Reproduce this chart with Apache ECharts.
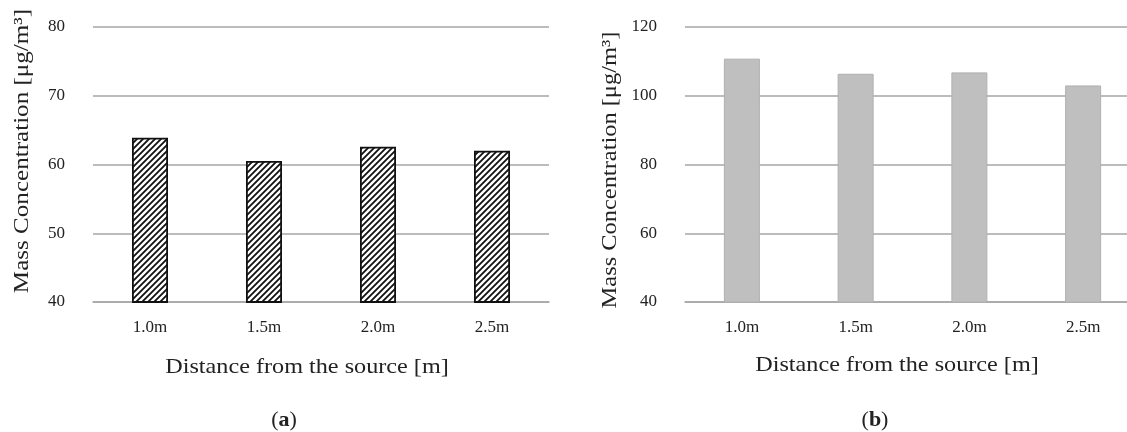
<!DOCTYPE html>
<html>
<head>
<meta charset="utf-8">
<script src="https://cdn.jsdelivr.net/npm/echarts@6/dist/echarts.min.js"></script>
<style>
html,body{margin:0;padding:0;background:#fff;}
#chart{width:1127px;height:432px;}
</style>
</head>
<body>
<div id="chart"></div>
<script>
const categories = ['1.0m', '1.5m', '2.0m', '2.5m'];
const valuesA = [63.9, 60.5, 62.6, 62.0];
const valuesB = [110.8, 106.4, 106.8, 103.0];
const yTitle = 'Mass Concentration [μg/m³]';
const xTitle = 'Distance from the source [m]';
const panelA = 'a';
const panelB = 'b';

const FONT = "'Liberation Serif', 'DejaVu Serif', serif";
const TXT = '#222';
const GRIDC = '#a6a6a6';

function hatch() {
  const s = 6;
  const c = document.createElement('canvas');
  c.width = s; c.height = s;
  const g = c.getContext('2d');
  g.fillStyle = '#fff';
  g.fillRect(0, 0, s, s);
  g.strokeStyle = '#111';
  g.lineWidth = 1.8;
  g.beginPath();
  g.moveTo(-s, s); g.lineTo(s, -s);
  g.moveTo(0, s); g.lineTo(s, 0);
  g.moveTo(0, 2 * s); g.lineTo(2 * s, 0);
  g.stroke();
  return c;
}

const chart = echarts.init(document.getElementById('chart'), null, {renderer: 'canvas'});

function xAxis(gi) {
  return {
    type: 'category', gridIndex: gi, data: categories,
    axisLine: {show: true, lineStyle: {color: GRIDC, width: 1.5}},
    axisTick: {show: false},
    axisLabel: {margin: 17, fontFamily: FONT, fontSize: 17, color: TXT}
  };
}
function yAxis(gi, min, max, interval) {
  return {
    type: 'value', gridIndex: gi, min: min, max: max, interval: interval,
    axisLine: {show: false}, axisTick: {show: false},
    splitLine: {show: true, lineStyle: {color: GRIDC, width: 1.5}},
    axisLabel: {margin: 28, fontFamily: FONT, fontSize: 17, color: TXT}
  };
}

function vTitle(x, y, sx) {
  return {type: 'text', x: x, y: y, rotation: Math.PI / 2, scaleX: sx,
    style: {text: yTitle, font: '22px ' + FONT, fill: TXT, textAlign: 'center', textVerticalAlign: 'middle'}};
}
function hTitle(x, y) {
  return {type: 'text', x: x, y: y, scaleX: 1.1,
    style: {text: xTitle, font: '22px ' + FONT, fill: TXT, textAlign: 'center', textVerticalAlign: 'middle'}};
}
function panel(x, y, letter) {
  return {type: 'text', x: x, y: y,
    style: {text: '{p|(}{b|' + letter + '}{p|)}', textAlign: 'center', textVerticalAlign: 'middle',
      rich: {
        p: {fontFamily: FONT, fontSize: 22, fill: TXT, color: TXT},
        b: {fontFamily: FONT, fontSize: 22, fontWeight: 'bold', fill: TXT, color: TXT}
      }}};
}

chart.setOption({
  animation: false,
  backgroundColor: '#fff',
  grid: [
    {left: 93, top: 27, width: 456, height: 275, outerBoundsMode: 'none', containLabel: false},
    {left: 685, top: 27, width: 455, height: 275, outerBoundsMode: 'none', containLabel: false}
  ],
  xAxis: [xAxis(0), xAxis(1)],
  yAxis: [yAxis(0, 40, 80, 10), yAxis(1, 40, 120, 20)],
  series: [
    {
      type: 'bar', xAxisIndex: 0, yAxisIndex: 0, data: valuesA, barWidth: 36,
      itemStyle: {color: {image: hatch(), repeat: 'repeat'}, borderColor: '#111', borderWidth: 1.8}
    },
    {
      type: 'bar', xAxisIndex: 1, yAxisIndex: 1, data: valuesB, barWidth: 36,
      itemStyle: {color: '#bfbfbf', borderColor: '#b0b0b0', borderWidth: 1}
    }
  ],
  graphic: [
    vTitle(22, 151, 1.14),
    vTitle(610, 170, 1.11),
    hTitle(307, 367),
    hTitle(897, 365),
    panel(284, 420, panelA),
    panel(875, 420, panelB)
  ]
});
</script>
</body>
</html>
